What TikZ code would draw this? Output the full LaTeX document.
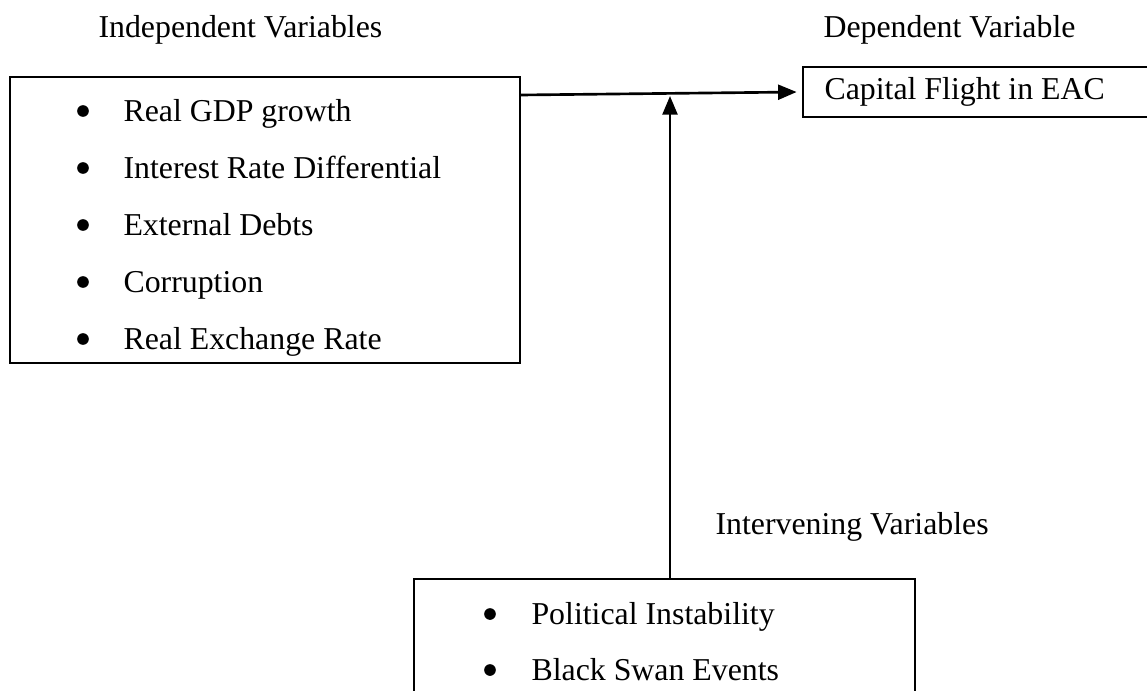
\documentclass[tikz,border=0pt]{standalone}
\usepackage{fontspec}
\setmainfont{Liberation Serif}
\usetikzlibrary{arrows.meta,fit}
\begin{document}
\begin{tikzpicture}[x=0.377pt, y=-0.377pt,
    varbox/.style ={draw, line width=0.8pt, inner sep=0pt},
    vartext/.style ={anchor=base west, inner sep=0pt, font=\fontsize{12}{14}\selectfont},
    dot/.style ={circle, fill, inner sep=0pt, minimum size=4.4pt},
    flow/.style ={line width=1pt, -{Triangle[length=7pt,width=5.6pt]}}]
   \useasboundingbox (0,0) rectangle (1147,690);
   % boxes
   \node[varbox, fit={(10,77) (520,363)}] (indep) {};
   \node[varbox, fit={(803,67) (1160,117)}] (dep) {};
   \node[varbox, fit={(414,579) (915,710)}] (interv) {};
   % headings
   \node[vartext] (indephead) at (98,37) {Independent Variables};
   \node[vartext] (dephead) at (823,37) {Dependent Variable};
   \node[vartext] (intervhead) at (715,534) {Intervening Variables};
   \node[vartext] (flight) at (824,99) {Capital Flight in EAC};
   % bullet lists
   \foreach \txt [count=\i] in {Real GDP growth, Interest Rate Differential,
       External Debts, Corruption, Real Exchange Rate} {
     \node[dot] (ivdot\i) at (83,54+57*\i) {};
     \node[vartext] (ivtext\i) at (123,64+57*\i) {\txt};
   }
   \foreach \txt [count=\i] in {Political Instability, Black Swan Events} {
     \node[dot] (mvdot\i) at (490,558+56*\i) {};
     \node[vartext] (mvtext\i) at (531,568+56*\i) {\txt};
   }
   % connectors
   \coordinate (out) at (520,95);
   \coordinate (jn) at (670,96);
   \draw[flow] (out) -- ([xshift=-2pt]dep.west);
   \draw[flow] (interv.north -| jn) -- (jn);
\end{tikzpicture}
\end{document}
